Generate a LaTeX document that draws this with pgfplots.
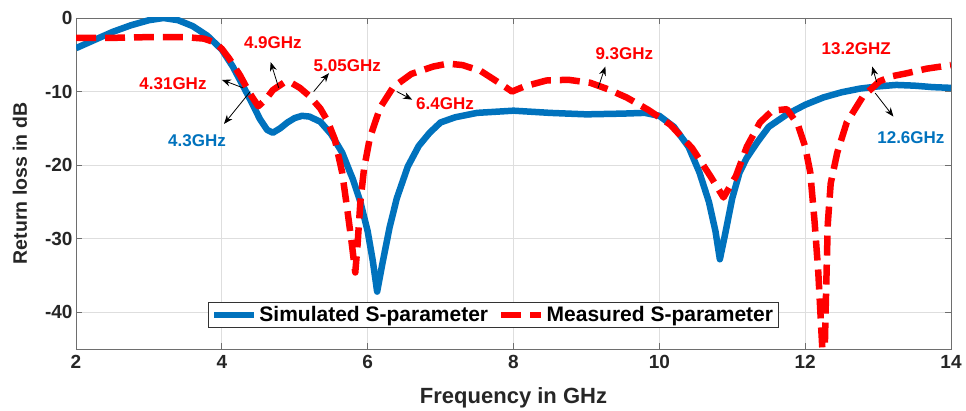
\documentclass[border=0pt]{standalone}
\usepackage{pgfplots}
\pgfplotsset{compat=1.18}
\usepackage{fontspec}
\setmainfont{Liberation Sans}
\usetikzlibrary{arrows.meta}
\definecolor{mblue}{RGB}{0,114,189}
\definecolor{mred}{RGB}{255,0,0}
\definecolor{axgray}{RGB}{110,110,110}
\begin{document}
\begin{tikzpicture}
\begin{axis}[
  scale only axis,
  width=875pt, height=331pt,
  xmin=2, xmax=14, ymin=-45, ymax=0,
  xtick={2,4,...,14}, ytick={-40,-30,-20,-10,0},
  grid=major,
  major grid style={black!13, line width=0.8pt},
  axis line style={axgray, line width=0.9pt},
  tick style={axgray, line width=0.9pt},
  major tick length=6pt,
  tick align=inside,
  /pgf/number format/assume math mode=true,
  ticklabel style={font=\fontsize{19}{19}\selectfont\bfseries, text=black!85},
  xticklabel style={yshift=-3pt},
  xlabel={Frequency in GHz},
  ylabel={Return loss in dB},
  xlabel style={font=\fontsize{22}{22}\selectfont\bfseries, text=black!85, at={(axis description cs:0.5,-0.148)}, anchor=center},
  ylabel style={font=\fontsize{19.5}{19.5}\selectfont\bfseries, text=black!85, at={(axis description cs:-0.064,0.5)}, anchor=center},
  legend columns=2,
  legend style={at={(axis description cs:0.4766,0.103)}, anchor=center,
    font=\fontsize{21}{21}\selectfont\bfseries, draw=black!80, line width=0.8pt,
    inner xsep=3pt, inner ysep=2pt, /tikz/every even column/.append style={column sep=8pt}},
  legend image code/.code={\draw[#1] (0pt,0pt) -- (40pt,0pt);},
]
\addplot[mblue, line width=6.5pt, line join=round] coordinates {
(2.0,-4.1) (2.25,-3.0) (2.5,-1.9) (2.75,-1.0) (3.0,-0.3) (3.2,0) (3.4,-0.3)
(3.6,-1.1) (3.8,-2.4) (4.0,-4.3) (4.15,-6.6) (4.3,-9.4) (4.4,-11.3) (4.52,-13.7)
(4.62,-15.2) (4.7,-15.6) (4.8,-15.0) (4.9,-14.2) (5.0,-13.6) (5.1,-13.3) (5.2,-13.4)
(5.35,-14.1) (5.5,-15.8) (5.65,-18.3) (5.8,-22) (5.9,-25) (6.0,-29) (6.07,-33)
(6.13,-37.2) (6.2,-33.5) (6.3,-28.5) (6.4,-24.5) (6.55,-20.2) (6.7,-17.4) (6.85,-15.6)
(7.0,-14.2) (7.2,-13.5) (7.5,-12.9) (8.0,-12.6) (8.5,-12.9) (9.0,-13.1) (9.5,-13.0)
(9.8,-12.9) (10.0,-13.3) (10.2,-14.8) (10.4,-17.5) (10.55,-21) (10.68,-25) (10.77,-29)
(10.83,-32.8) (10.9,-29.5) (11.0,-24.5) (11.1,-21) (11.2,-19) (11.35,-16.8) (11.5,-14.8)
(11.75,-13.1) (12.0,-11.8) (12.25,-10.8) (12.5,-10.1) (12.75,-9.6) (13.0,-9.3)
(13.25,-9.1) (13.5,-9.2) (13.75,-9.4) (14.0,-9.5)
};
\addlegendentry{Simulated S-parameter}
\addplot[mred, line width=6.5pt, line join=round, dash pattern=on 20pt off 9pt] coordinates {
(2.0,-2.7) (2.5,-2.7) (3.0,-2.6) (3.5,-2.6) (3.75,-2.8) (3.9,-3.3) (4.0,-4.2)
(4.1,-5.5) (4.25,-7.8) (4.38,-10.2) (4.5,-12.0) (4.6,-11.1) (4.7,-9.8) (4.85,-8.8)
(4.95,-8.8) (5.07,-9.5) (5.2,-10.6) (5.35,-12.3) (5.45,-14.0) (5.55,-16.5) (5.65,-21)
(5.72,-26) (5.78,-30.5) (5.83,-34.6) (5.86,-31) (5.9,-25) (5.95,-20.5) (6.03,-16.3)
(6.17,-12.2) (6.35,-9.4) (6.6,-7.6) (6.9,-6.6) (7.1,-6.2) (7.3,-6.4) (7.55,-7.2)
(7.8,-8.8) (7.98,-10.0) (8.15,-9.3) (8.45,-8.5) (8.75,-8.4) (9.05,-8.8) (9.3,-9.7)
(9.55,-10.8) (9.85,-12.5) (10.15,-14.5) (10.45,-17.7) (10.7,-21.5) (10.88,-24.4)
(11.05,-21.5) (11.2,-17.5) (11.38,-14.2) (11.55,-12.6) (11.75,-12.4) (11.9,-14.5)
(12.0,-17.5) (12.07,-21) (12.13,-27.8) (12.18,-34.6) (12.23,-44) (12.26,-49)
(12.28,-40) (12.31,-28) (12.35,-22.5) (12.44,-18.3) (12.57,-14.2) (12.79,-10.7)
(13.02,-8.6) (13.2,-7.9) (13.4,-7.5) (13.66,-6.9) (14.0,-6.4)
};
\addlegendentry{Measured S-parameter}
% annotations
\begin{scope}[font=\fontsize{17}{17}\selectfont\bfseries]
\node[mred] at (axis cs:3.33,-8.9) {4.31GHz};
\node[mblue] at (axis cs:3.66,-16.7) {4.3GHz};
\node[mred] at (axis cs:4.70,-3.3) {4.9GHz};
\node[mred] at (axis cs:5.72,-6.5) {5.05GHz};
\node[mred] at (axis cs:7.06,-11.6) {6.4GHz};
\node[mred] at (axis cs:9.52,-4.9) {9.3GHz};
\node[mred] at (axis cs:12.70,-4.2) {13.2GHZ};
\node[mblue] at (axis cs:13.45,-16.2) {12.6GHz};
\end{scope}
\begin{scope}[black, line width=0.8pt, -{Stealth[length=9pt,width=7pt]}]
\draw (axis cs:4.29,-9.5) -- (axis cs:4.0,-8.4);
\draw (axis cs:4.39,-10) -- (axis cs:4.03,-14.4);
\draw (axis cs:4.78,-9.5) -- (axis cs:4.67,-6);
\draw (axis cs:5.26,-10) -- (axis cs:5.47,-7.5);
\draw (axis cs:6.40,-10) -- (axis cs:6.61,-11.1);
\draw (axis cs:9.16,-9.5) -- (axis cs:9.26,-6.6);
\draw (axis cs:12.98,-8.7) -- (axis cs:12.92,-6.6);
\draw (axis cs:12.96,-10.2) -- (axis cs:13.21,-13.4);
\end{scope}
\end{axis}
\pgfresetboundingbox
\path (current axis.south west) ++(-76pt,-62pt) coordinate (bbA);
\path (current axis.north east) ++(15pt,18pt) coordinate (bbB);
\useasboundingbox (bbA) rectangle (bbB);
\end{tikzpicture}
\end{document}
